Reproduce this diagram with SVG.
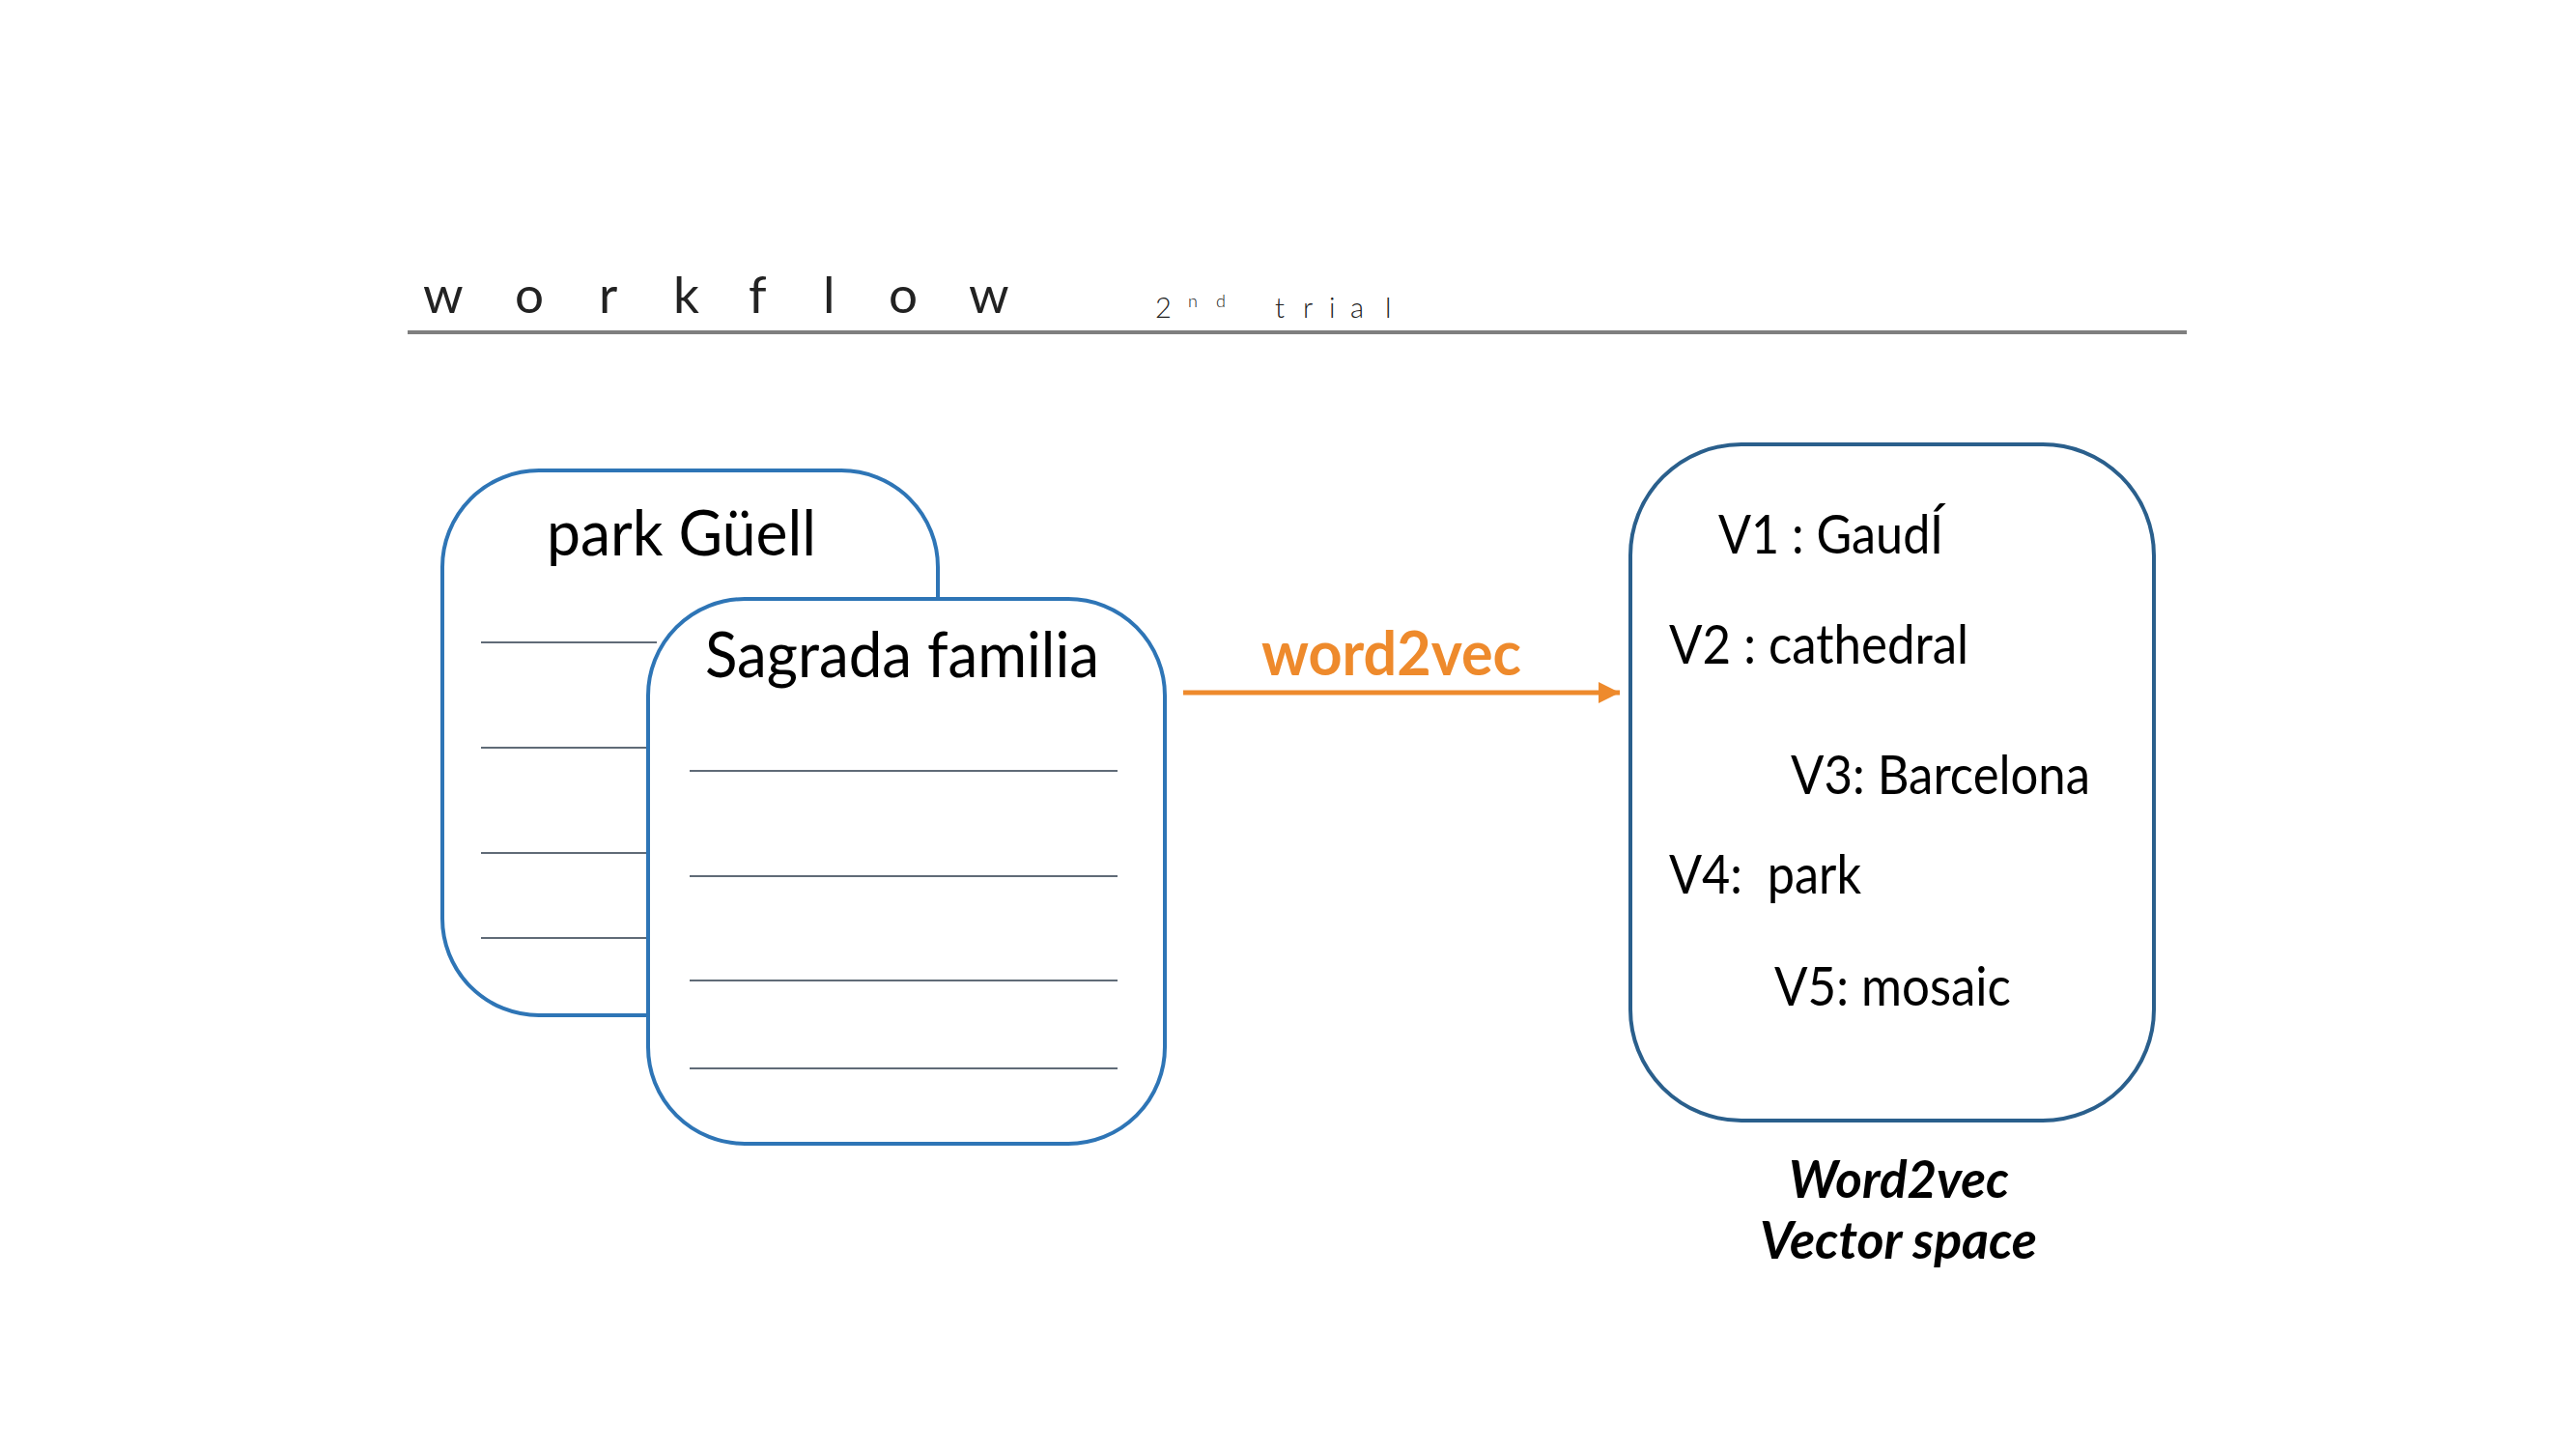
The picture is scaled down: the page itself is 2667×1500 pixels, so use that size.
<svg xmlns="http://www.w3.org/2000/svg" width="2667" height="1500" viewBox="0 0 2667 1500">
<style>
.doc{fill:#ffffff;stroke:#2E75B6;stroke-width:4}
.vec{fill:#ffffff;stroke:#2A5F8C;stroke-width:4}
.rule{stroke:#2B3A4A;stroke-width:1.6}
.t{font-family:Lato,"Noto Sans","Liberation Sans",sans-serif;fill:#000000}
.hdr{font-family:Lato,"Noto Sans","Liberation Sans",sans-serif;font-weight:400;fill:#222222}
.sub{font-family:Lato,"Noto Sans","Liberation Sans",sans-serif;font-weight:300;fill:#222222}
</style>
<defs>
<marker id="arrow" markerWidth="4.4" markerHeight="4.4" refX="4.4" refY="2.2" orient="auto" markerUnits="strokeWidth">
<path d="M0,0 L4.4,2.2 L0,4.4 Z" fill="#EE8A2C"/>
</marker>
</defs>
<rect width="2667" height="1500" fill="#ffffff"/>
<g id="title">
<text class="hdr" font-size="53" x="438 533 620 697 775 852 920 1003" y="324">workflow</text>
<text class="sub" font-size="29" x="1196" y="329">2</text>
<text class="sub" font-size="18" x="1230 1259" y="318">nd</text>
<text class="sub" font-size="29" x="1320 1349 1376 1398 1434" y="329">trial</text>
<line x1="422" y1="344" x2="2264" y2="344" stroke="#7F7F7F" stroke-width="4"/>
</g>
<g id="node-park-guell">
<rect class="doc" x="458" y="487" width="513" height="564" rx="100" ry="100"/>
<text class="t" font-size="65" x="566" y="575" textLength="279" lengthAdjust="spacingAndGlyphs">park Güell</text>
<line class="rule" x1="498" y1="665" x2="680" y2="665"/>
<line class="rule" x1="498" y1="774" x2="680" y2="774"/>
<line class="rule" x1="498" y1="883" x2="680" y2="883"/>
<line class="rule" x1="498" y1="971" x2="680" y2="971"/>
</g>
<g id="node-sagrada-familia">
<rect class="doc" x="671" y="620" width="535" height="564" rx="100" ry="100"/>
<text class="t" font-size="65" x="730" y="701" textLength="408" lengthAdjust="spacingAndGlyphs">Sagrada familia</text>
<line class="rule" x1="714" y1="798" x2="1157" y2="798"/>
<line class="rule" x1="714" y1="907" x2="1157" y2="907"/>
<line class="rule" x1="714" y1="1015" x2="1157" y2="1015"/>
<line class="rule" x1="714" y1="1106" x2="1157" y2="1106"/>
</g>
<g id="connectors">
<line x1="1225" y1="717" x2="1677" y2="717" stroke="#EE8A2C" stroke-width="5" marker-end="url(#arrow)"/>
<text font-family="Lato,'Noto Sans','Liberation Sans',sans-serif" font-weight="bold" font-size="64" fill="#EE8A2C" x="1306" y="699" textLength="269" lengthAdjust="spacingAndGlyphs">word2vec</text>
</g>
<g id="node-vector-space">
<rect class="vec" x="1688" y="460" width="542" height="700" rx="115" ry="115"/>
<text class="t" font-size="57" x="1779" y="573" textLength="233" lengthAdjust="spacingAndGlyphs">V1 : GaudÍ</text>
<text class="t" font-size="57" x="1728" y="687" textLength="310" lengthAdjust="spacingAndGlyphs">V2 : cathedral</text>
<text class="t" font-size="57" x="1854" y="822" textLength="310" lengthAdjust="spacingAndGlyphs">V3: Barcelona</text>
<text class="t" font-size="57" x="1728" y="925" textLength="199" lengthAdjust="spacingAndGlyphs" xml:space="preserve">V4:  park</text>
<text class="t" font-size="57" x="1837" y="1041" textLength="245" lengthAdjust="spacingAndGlyphs">V5: mosaic</text>
</g>
<g id="caption">
<text class="t" font-size="54" font-weight="bold" font-style="italic" x="1852" y="1240" textLength="228" lengthAdjust="spacingAndGlyphs">Word2vec</text>
<text class="t" font-size="54" font-weight="bold" font-style="italic" x="1822" y="1303" textLength="287" lengthAdjust="spacingAndGlyphs">Vector space</text>
</g>
</svg>
